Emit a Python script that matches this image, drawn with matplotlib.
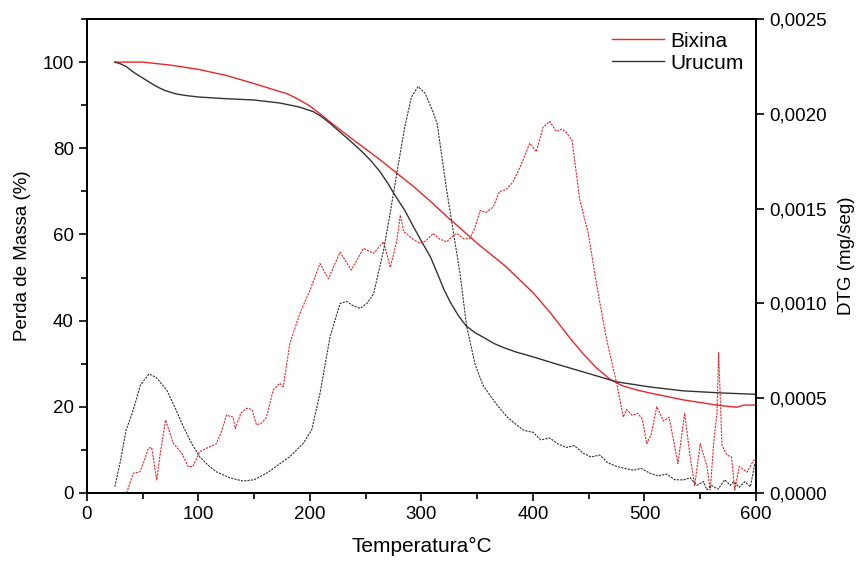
import numpy as np
import matplotlib.pyplot as plt
from matplotlib.ticker import MultipleLocator, FuncFormatter

plt.rcParams['font.family'] = ['Liberation Sans', 'DejaVu Sans']

# TG - perda de massa (%)
t_tg_bix = [25, 50, 75, 100, 125, 150, 165, 180, 190, 200, 210, 220, 233, 248, 263, 278, 293, 308, 323, 338, 352, 375,
            400, 415, 433, 445, 457, 469, 480, 493, 505, 520, 535, 550, 565, 575, 583, 589, 600]
tg_bix = [100, 100, 99.3, 98.3, 96.9, 95.0, 93.8, 92.6, 91.3, 89.8, 87.8, 85.7, 83.1, 80.2, 77.3, 74.2, 71.1, 67.7, 64.1,
          60.7, 57.5, 52.7, 46.5, 42.0, 36.0, 32.3, 29.0, 26.4, 24.9, 23.9, 23.2, 22.4, 21.6, 21.0, 20.4, 20.1, 19.9,
          20.4, 20.4]

t_tg_uru = [25, 30, 35, 40, 45, 50, 55, 60, 65, 70, 75, 80, 90, 100, 125, 150, 173, 190, 203, 210, 218, 225, 233, 240,
            248, 255, 263, 270, 275, 285, 293, 300, 308, 315, 320, 326, 333, 340, 348, 355, 365, 373, 385, 400, 420,
            445, 475, 505, 535, 570, 600]
tg_uru = [100, 99.6, 99.0, 98.0, 97.1, 96.3, 95.5, 94.7, 94.0, 93.4, 93.0, 92.6, 92.2, 91.9, 91.5, 91.2, 90.5, 89.6,
          88.5, 87.4, 85.8, 84.2, 82.4, 80.8, 78.9, 77.0, 74.5, 71.8, 69.6, 65.6, 61.7, 58.4, 54.8, 50.5, 47.3, 44.2,
          41.2, 38.8, 37.2, 36.2, 34.7, 33.8, 32.7, 31.6, 30.0, 28.1, 25.8, 24.6, 23.7, 23.2, 22.9]

# DTG (mg/seg)
t_dtg_uru = [25, 29.6, 35, 41.5, 48, 55.6, 62, 71.5, 79, 86.4, 94, 101, 108, 116, 128, 140, 150, 161, 172, 182, 194, 201.5,
             209, 218, 227, 233, 238, 245, 251, 257, 266, 272, 278, 285, 291, 297, 303, 309, 314, 322.5, 334.5, 340.5,
             348, 355, 362, 369, 377, 385, 392, 400, 407, 415, 422, 430, 437, 445, 452, 460, 467, 475, 482, 490, 497,
             505, 512, 520, 527, 535, 541, 547, 553, 556, 560, 566, 572, 577, 580, 585, 590, 595, 599]
dtg_uru = [0.000033, 0.000158, 0.00033, 0.000438, 0.00057, 0.000628, 0.00061, 0.000543, 0.00045, 0.00035, 0.00026, 0.000192,
           0.00015, 0.000112, 0.00008, 0.000063, 0.00007, 0.000104, 0.00015, 0.000192, 0.000262, 0.000332,
           0.000526, 0.000824, 0.001, 0.00101, 0.00099, 0.000974, 0.001, 0.00105, 0.00128, 0.00148, 0.00169, 0.00193,
           0.00209, 0.002143, 0.00211, 0.00203, 0.00195, 0.0016, 0.00116, 0.00088, 0.00068, 0.00057, 0.00051, 0.000455,
           0.0004, 0.00036, 0.00033, 0.00032, 0.00028, 0.00029, 0.00026, 0.00024, 0.00025, 0.00021, 0.00019, 0.0002,
           0.00016, 0.00014, 0.00013, 0.00012, 0.00013, 0.000104, 0.00009, 0.0001, 0.00007, 0.000069, 0.00008, 0.00004,
           0.00006, 0.000016, 0.00004, 0.00002, 0.00007, 0.00004, 0.00006, 0.00003, 0.00006, 0.000033, 0.000158]

t_dtg_bix = [35.5, 41.5, 47.5, 52, 55, 58, 62.5, 65.5, 70.5, 77.4, 85, 90.8, 95, 101, 110, 116, 121, 125, 131, 133, 138, 143,
             148, 152, 157, 161, 167, 173, 176, 182, 191, 200, 209, 216.5, 227, 237, 248, 257, 266, 272, 278, 281, 284,
             292, 298.6, 304, 310.6, 316, 322.6, 327, 331.6, 338, 343.5, 348, 352.5, 358, 364.5, 370, 376, 382, 387,
             391, 397, 403, 409, 415, 421, 426, 430, 435, 442, 449.6, 457, 466, 475, 481, 484, 489, 494, 498, 502, 506,
             511, 517, 522, 526, 530, 536, 541, 545, 550, 556, 559, 562, 565, 566.5, 569.5, 574, 578, 581, 585, 592, 598, 600]
dtg_bix = [0.0, 0.000104, 0.000112, 0.00018, 0.000236, 0.00024, 0.000069, 0.0002, 0.000385, 0.000262, 0.00021, 0.000139,
           0.00014, 0.000218, 0.000244, 0.00026, 0.00033, 0.000411, 0.0004, 0.00034, 0.00042, 0.000447,
           0.00044, 0.000359, 0.00037, 0.0004, 0.000543, 0.000579, 0.00056, 0.00079, 0.000948, 0.00107, 0.00121, 0.00113,
           0.00127, 0.001176, 0.00129, 0.001264, 0.001325, 0.00119, 0.001334, 0.001466, 0.00138,
           0.00134, 0.001317, 0.00133, 0.00137, 0.00134, 0.001325, 0.00135, 0.00137, 0.00134, 0.001343, 0.0014, 0.00149,
           0.00148, 0.00151, 0.00159, 0.0016, 0.00164, 0.0017, 0.001756, 0.001844, 0.0018, 0.00193, 0.00196, 0.001906,
           0.00192, 0.0019, 0.00186, 0.001545, 0.00137, 0.0011, 0.00081, 0.00058, 0.0004, 0.00044, 0.00041, 0.00042,
           0.00039, 0.00026, 0.00031, 0.000455, 0.00038, 0.0004, 0.00028, 0.000156, 0.00042, 0.00019, 0.00004, 0.00026,
           0.00014, 0.000016, 0.00026, 0.00042, 0.00074, 0.00025, 0.0002, 0.00019, 0.000016, 0.00014, 0.00011, 0.000174, 0.00016]

red = '#e8262b'
black = '#333333'

fig = plt.figure(figsize=(8.63, 5.64), dpi=100)
ax = fig.add_axes([0.1008, 0.1259, 0.7752, 0.8404])
ax2 = ax.twinx()

ax.plot(t_tg_bix, tg_bix, color=red, lw=1.0, label='Bixina')
ax.plot(t_tg_uru, tg_uru, color=black, lw=1.0, label='Urucum')
ax2.plot(t_dtg_bix, dtg_bix, color=red, lw=0.8, linestyle=(0, (2, 1)))
ax2.plot(t_dtg_uru, dtg_uru, color=black, lw=0.8, linestyle=(0, (2, 1)))

ax.set_xlim(0, 600)
ax.set_ylim(0, 110)
ax2.set_ylim(0, 0.0025)

ax.xaxis.set_major_locator(MultipleLocator(100))
ax.xaxis.set_minor_locator(MultipleLocator(50))
ax.yaxis.set_major_locator(MultipleLocator(20))
ax.yaxis.set_minor_locator(MultipleLocator(10))
ax2.yaxis.set_major_locator(MultipleLocator(0.0005))
ax2.yaxis.set_major_formatter(FuncFormatter(lambda v, p: f'{v:.4f}'.replace('.', ',')))

ax.tick_params(axis='both', which='major', direction='out', length=6, width=1.2, labelsize=13.5, top=False)
ax.tick_params(axis='both', which='minor', direction='out', length=4, width=1.2, top=False)
ax2.tick_params(axis='y', which='major', direction='out', length=6, width=1.2, labelsize=13.5)

for a in (ax, ax2):
    for s in a.spines.values():
        s.set_linewidth(1.4)

ax.set_xlabel('Temperatura°C', fontsize=15, labelpad=10)
ax.set_ylabel('Perda de Massa (%)', fontsize=13.5, labelpad=8)
ax2.set_ylabel('DTG (mg/seg)', fontsize=13.5, labelpad=8)

ax.legend(loc='upper right', frameon=False, fontsize=15, handlelength=2.5,
          borderaxespad=0.2, labelspacing=0.15, handletextpad=0.3)

plt.savefig('out.png', dpi=100)
